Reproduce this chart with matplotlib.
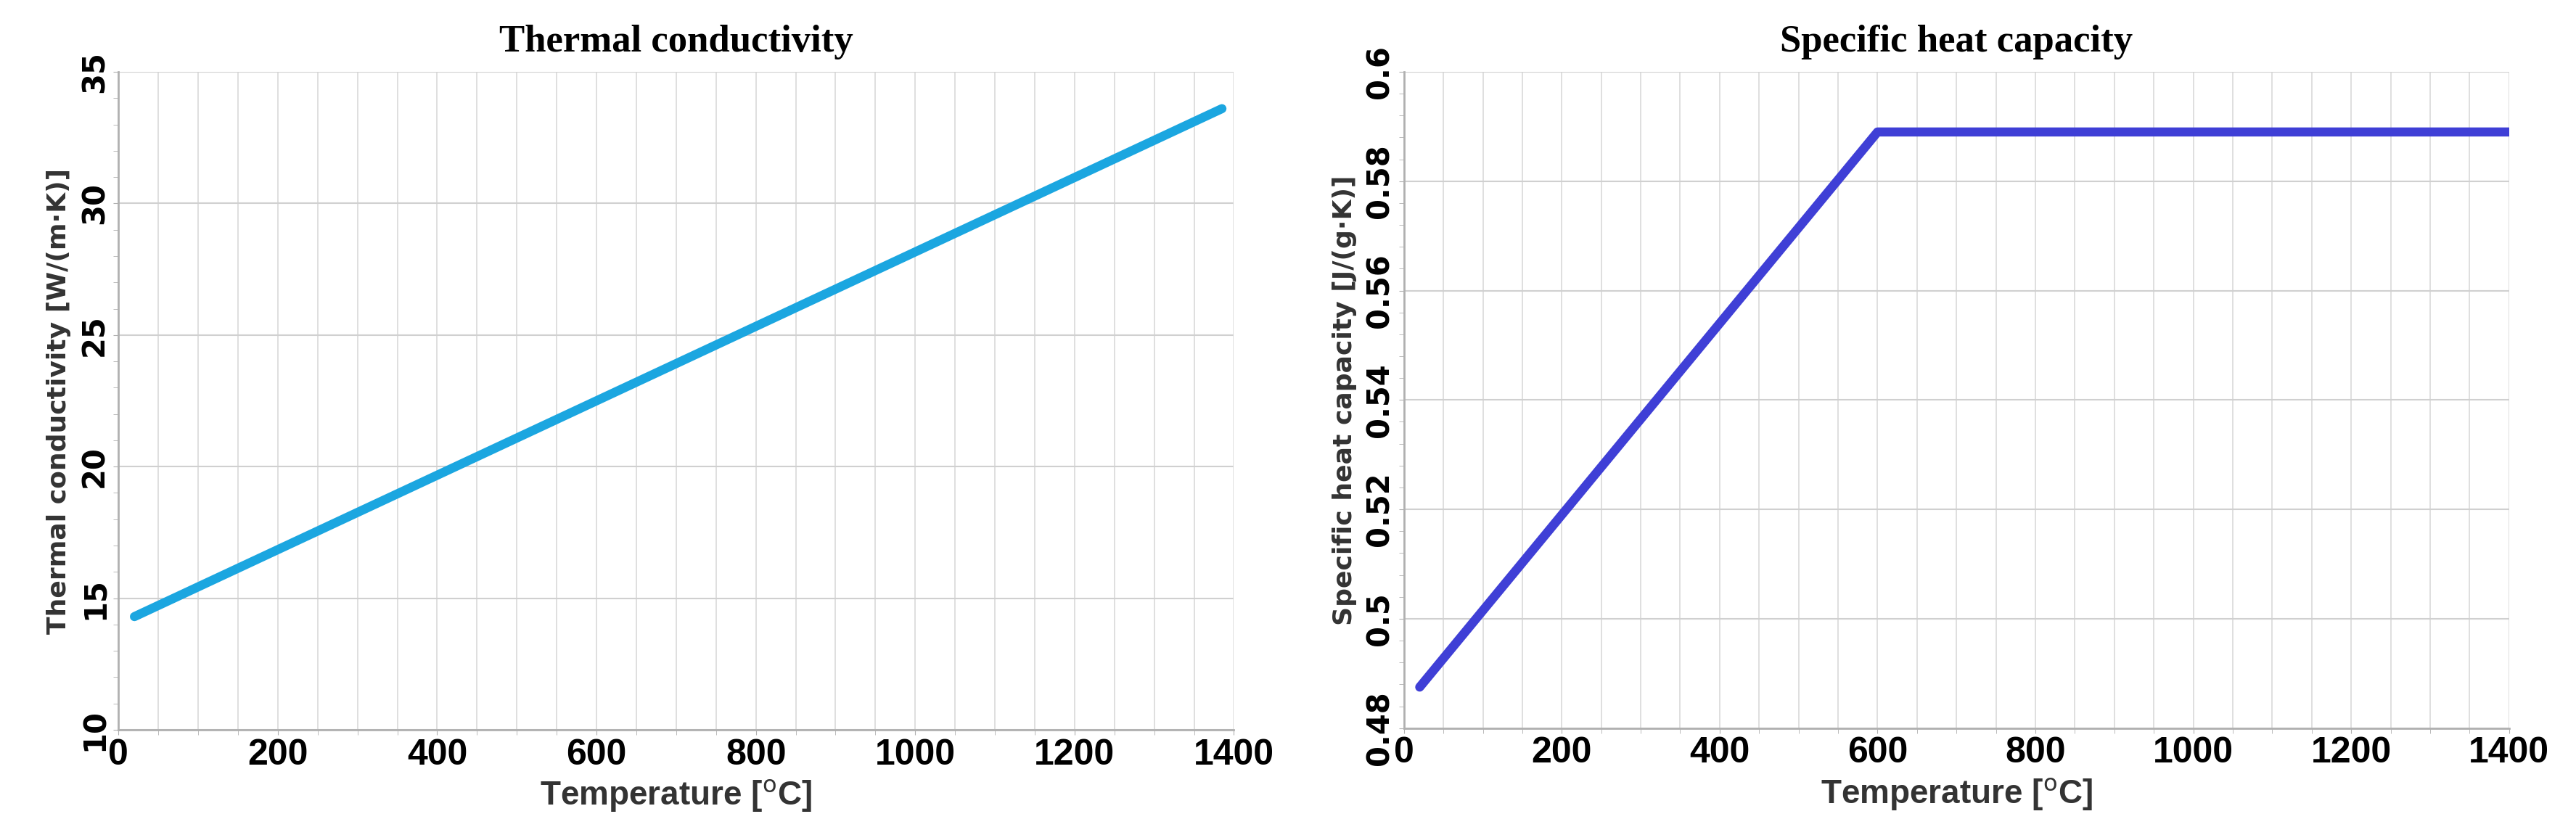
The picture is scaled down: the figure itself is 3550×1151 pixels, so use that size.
import matplotlib
matplotlib.use("Agg")
import matplotlib.pyplot as plt
from matplotlib.ticker import MultipleLocator

temp_k = [20, 1385]
k_vals = [14.3, 33.6]
temp_cp = [20, 600, 1400]
cp_vals = [0.4875, 0.589, 0.589]

fig = plt.figure(figsize=(35.5, 11.51), dpi=100)
ax1 = fig.add_axes([0.046, 0.126, 0.433, 0.788])
ax2 = fig.add_axes([0.545, 0.128, 0.429, 0.786])

narrow = ["Liberation Sans Narrow", "Liberation Sans", "DejaVu Sans"]

def style(ax, ylim, ymaj, ylabel, title):
    ax.set_xlim(0, 1400)
    ax.set_ylim(*ylim)
    ax.xaxis.set_major_locator(MultipleLocator(200))
    ax.xaxis.set_minor_locator(MultipleLocator(50))
    ax.yaxis.set_major_locator(MultipleLocator(ymaj))
    ax.yaxis.set_minor_locator(MultipleLocator(ymaj / 5))
    ax.grid(True, which="major", axis="y", color="#d0d0d0", lw=1.5)
    ax.grid(True, which="both", axis="x", color="#dcdcdc", lw=1.3)
    for s in ["top", "right"]:
        ax.spines[s].set_visible(False)
    for s in ["left", "bottom"]:
        ax.spines[s].set_color("#b0b0b0")
        ax.spines[s].set_linewidth(2)
    ax.tick_params(which="both", length=5, color="#b0b0b0", direction="out")
    ax.set_axisbelow(True)
    for t in ax.get_xticklabels():
        t.set_fontfamily(narrow); t.set_fontsize(36); t.set_fontweight("bold")
    for t in ax.get_yticklabels():
        t.set_fontfamily("DejaVu Sans"); t.set_fontsize(30); t.set_fontweight("bold")
        t.set_rotation(90); t.set_va("center")
    ax.set_xlabel("Temperature [$^{\\mathrm{o}}$C]", fontsize=33, fontweight="bold",
                  family=narrow, color="#333333", labelpad=6)
    ax.set_ylabel(ylabel, fontsize=26, fontweight="bold", family="DejaVu Sans",
                  color="#333333", labelpad=8)
    ax.set_title(title, fontsize=38, fontweight="bold", family="Liberation Serif", pad=20)

ax1.plot(temp_k, k_vals, color="#1ba6e0", lw=9, solid_capstyle="round")
style(ax1, (10, 35), 5, "Thermal conductivity [W/(m·K)]", "Thermal conductivity")
ax2.plot(temp_cp, cp_vals, color="#3f3fd6", lw=9, solid_capstyle="round")
style(ax2, (0.48, 0.6), 0.02, "Specific heat capacity [J/(g·K)]", "Specific heat capacity")
ax2.yaxis.set_major_formatter(matplotlib.ticker.FuncFormatter(lambda v, p: f"{v:g}"))

fig.savefig("out.png", dpi=100)
